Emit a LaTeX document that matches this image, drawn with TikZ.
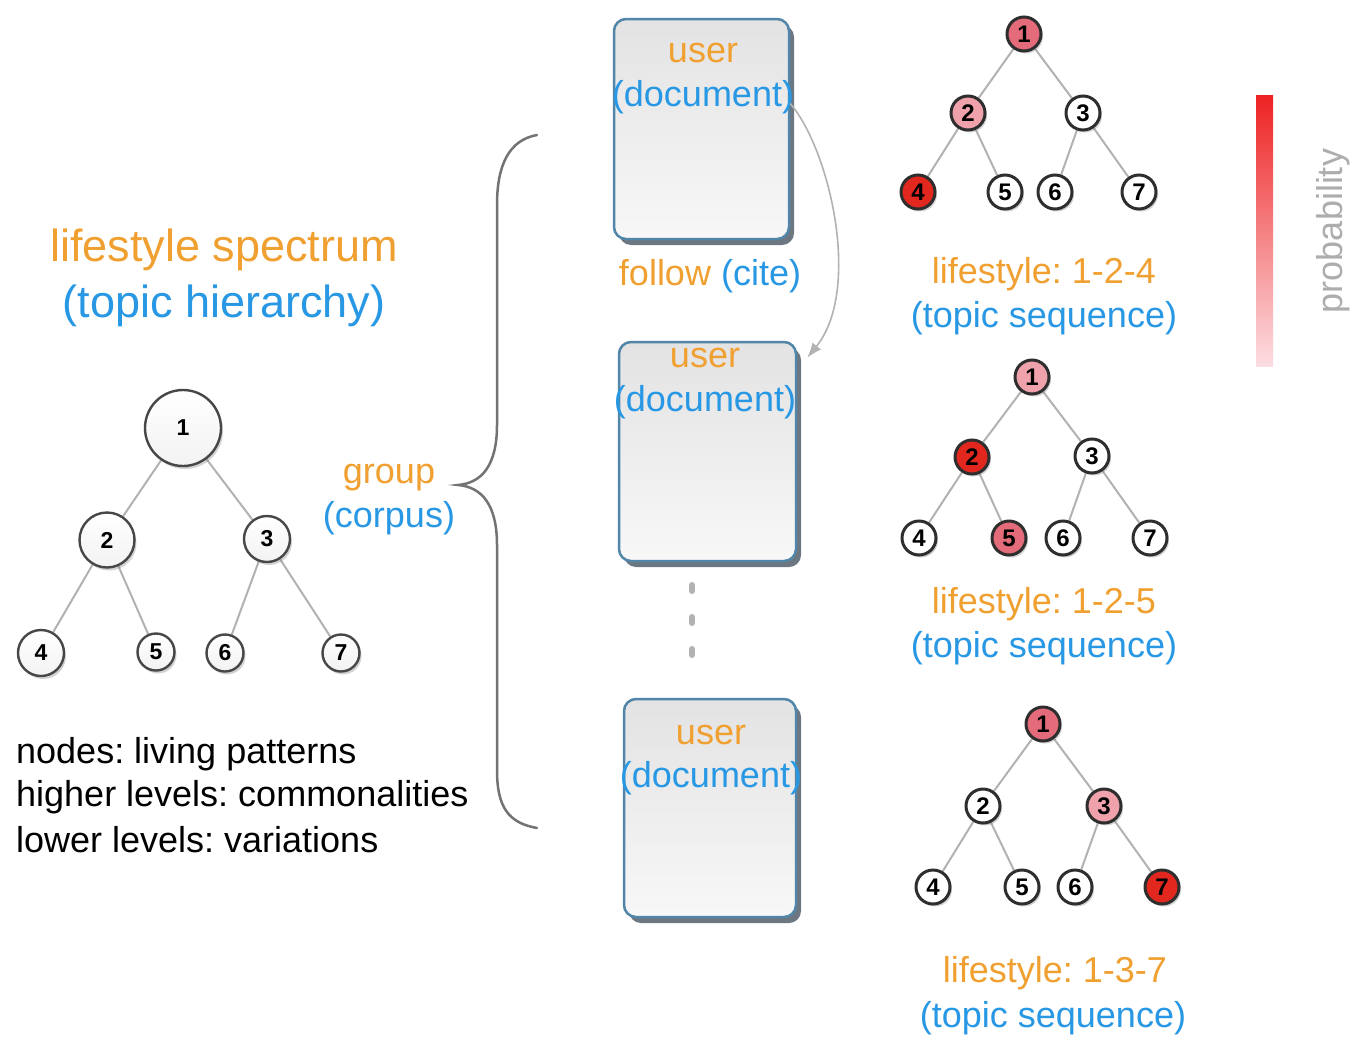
\documentclass[tikz,border=0pt]{standalone}
\usepackage{fontspec}
\setmainfont{Liberation Sans}
\frenchspacing
\usetikzlibrary{shadows,arrows.meta,calc,backgrounds}

\definecolor{ltorange}{RGB}{240,160,48}
\definecolor{ltblue}{RGB}{40,152,228}
\definecolor{edgegray}{RGB}{178,178,178}
\definecolor{boxblue}{RGB}{82,134,168}
\definecolor{boxshade}{RGB}{48,62,78}
\definecolor{probhi}{RGB}{226,40,30}
\definecolor{probmid}{RGB}{228,108,122}
\definecolor{problo}{RGB}{240,162,172}
\definecolor{bartop}{RGB}{238,34,34}
\definecolor{barbot}{RGB}{252,222,226}

\newcommand{\setfs}[1]{\fontsize{#1}{#1}\selectfont}
\newcommand{\treeedges}[1]{%
  \draw[edge] (#1-1) -- (#1-2) (#1-1) -- (#1-3) (#1-2) -- (#1-4)
              (#1-2) -- (#1-5) (#1-3) -- (#1-6) (#1-3) -- (#1-7);}

\tikzset{
  txt/.style={inner sep=0pt, font=\setfs{36}},
  orangetxt/.style={txt, text=ltorange},
  bluetxt/.style={txt, text=ltblue},
  edge/.style={draw=edgegray, line width=2pt},
  lnode/.style={circle, draw=black!72, line width=2.4pt, top color=white,
    bottom color=black!5, inner sep=0pt, font=\bfseries\setfs{23},
    drop shadow={shadow xshift=2pt, shadow yshift=-3pt, opacity=.35}},
  rnode/.style={circle, draw=black!82, line width=3pt, fill=white,
    minimum size=34pt, inner sep=0pt, font=\bfseries\setfs{24},
    drop shadow={shadow xshift=2pt, shadow yshift=-2.5pt, opacity=.35}},
  docbox/.style={draw=boxblue, line width=2.5pt, rounded corners=12pt,
    top color=black!11, bottom color=black!3,
    drop shadow={shadow xshift=5pt, shadow yshift=-6pt, fill=boxshade, opacity=.7}},
}

\begin{document}
\begin{tikzpicture}[x=1pt,y=-1pt]
\useasboundingbox (0,0) rectangle (1354,1036);

% ---------- lifestyle spectrum (left) ----------
\node[txt, text=ltorange, font=\setfs{45}] (title1) at (224,250) {lifestyle spectrum};
\node[txt, text=ltblue, font=\setfs{45}] (title2) at (224,306) {(topic hierarchy)};

\node[lnode, minimum size=76pt] (L-1) at (183,428) {1};
\node[lnode, minimum size=55pt] (L-2) at (107,540) {2};
\node[lnode, minimum size=46pt] (L-3) at (267,539) {3};
\node[lnode, minimum size=46pt] (L-4) at (41,653) {4};
\node[lnode, minimum size=37pt] (L-5) at (156,652) {5};
\node[lnode, minimum size=37pt] (L-6) at (225,653) {6};
\node[lnode, minimum size=37pt] (L-7) at (341,653) {7};

\node[txt, anchor=west] (n1) at (16,754) {nodes: living patterns};
\node[txt, anchor=west] (n2) at (16,797) {higher levels: commonalities};
\node[txt, anchor=west] (n3) at (16,840) {lower levels: variations};

% ---------- group (corpus) and brace ----------
\node[orangetxt] (grp) at (389,478) {group};
\node[bluetxt] (corp) at (389,518) {(corpus)};

\draw[black!55, line width=2.5pt, line cap=round]
  (537,135) .. controls (509,140) and (497,165) .. (497,205)
  -- (497,425) .. controls (497,465) and (482,483) .. (458,485)
  .. controls (482,487) and (497,505) .. (497,545)
  -- (497,770) .. controls (497,808) and (509,823) .. (537,828);

% ---------- user documents ----------
\node[docbox, minimum width=175pt, minimum height=220pt] (b1) at (701.5,129) {};
\node[docbox, minimum width=177pt, minimum height=219pt] (b2) at (707.5,451.5) {};
\node[docbox, minimum width=172pt, minimum height=218pt] (b3) at (710,808) {};

\node[orangetxt] (b1u) at (703,53) {user};
\node[bluetxt]   (b1d) at (703,97) {(document)};
\node[orangetxt] (b2u) at (705,358) {user};
\node[bluetxt]   (b2d) at (705,402) {(document)};
\node[orangetxt] (b3u) at (711,735) {user};
\node[bluetxt]   (b3d) at (711,778) {(document)};

\node[txt] (fol) at (710,276) {\textcolor{ltorange}{follow} \textcolor{ltblue}{(cite)}};

\draw[edgegray, line width=1.6pt, -{Latex[length=15pt,width=11pt]}]
  (b1.16) .. controls (830,150) and (862,290) .. ($(b2.north east)+(10,17)$);

\coordinate (d1) at (692,585);
\coordinate (d2) at (692,660);
\draw[edgegray, line width=6pt, line cap=round, dash pattern=on 6pt off 26pt] (d1) -- (d2);

% ---------- topic sequences (right) ----------
\node[rnode, fill=probmid] (A-1) at (1024,34) {1};
\node[rnode, fill=problo]  (A-2) at (968,113) {2};
\node[rnode]               (A-3) at (1083,113) {3};
\node[rnode, fill=probhi]  (A-4) at (918,192) {4};
\node[rnode]               (A-5) at (1005,192) {5};
\node[rnode]               (A-6) at (1055,192) {6};
\node[rnode]               (A-7) at (1139,192) {7};
\node[orangetxt] (A-l1) at (1044,274) {lifestyle: 1-2-4};
\node[bluetxt]   (A-l2) at (1044,318) {(topic sequence)};

\node[rnode, fill=problo]  (B-1) at (1032,377) {1};
\node[rnode, fill=probhi]  (B-2) at (972,457) {2};
\node[rnode]               (B-3) at (1092,456) {3};
\node[rnode]               (B-4) at (919,538) {4};
\node[rnode, fill=probmid] (B-5) at (1009,538) {5};
\node[rnode]               (B-6) at (1063,538) {6};
\node[rnode]               (B-7) at (1150,538) {7};
\node[orangetxt] (B-l1) at (1044,604) {lifestyle: 1-2-5};
\node[bluetxt]   (B-l2) at (1044,648) {(topic sequence)};

\node[rnode, fill=probmid] (C-1) at (1043,724) {1};
\node[rnode]               (C-2) at (983,806) {2};
\node[rnode, fill=problo]  (C-3) at (1104,806) {3};
\node[rnode]               (C-4) at (933,887) {4};
\node[rnode]               (C-5) at (1022,887) {5};
\node[rnode]               (C-6) at (1075,887) {6};
\node[rnode, fill=probhi]  (C-7) at (1162,887) {7};
\node[orangetxt] (C-l1) at (1055,973) {lifestyle: 1-3-7};
\node[bluetxt]   (C-l2) at (1053,1018) {(topic sequence)};

% ---------- probability scale ----------
\shade[top color=bartop, bottom color=barbot] (1256,95) rectangle (1273,366);
\node[txt, rotate=90, text=black!32] (prob) at (1333,231) {probability};

% ---------- tree edges behind the nodes ----------
\begin{scope}[on background layer]
  \fill[white] (0,0) rectangle (1354,1036);
  \treeedges{L}
  \treeedges{A}
  \treeedges{B}
  \treeedges{C}
\end{scope}
\end{tikzpicture}
\end{document}
